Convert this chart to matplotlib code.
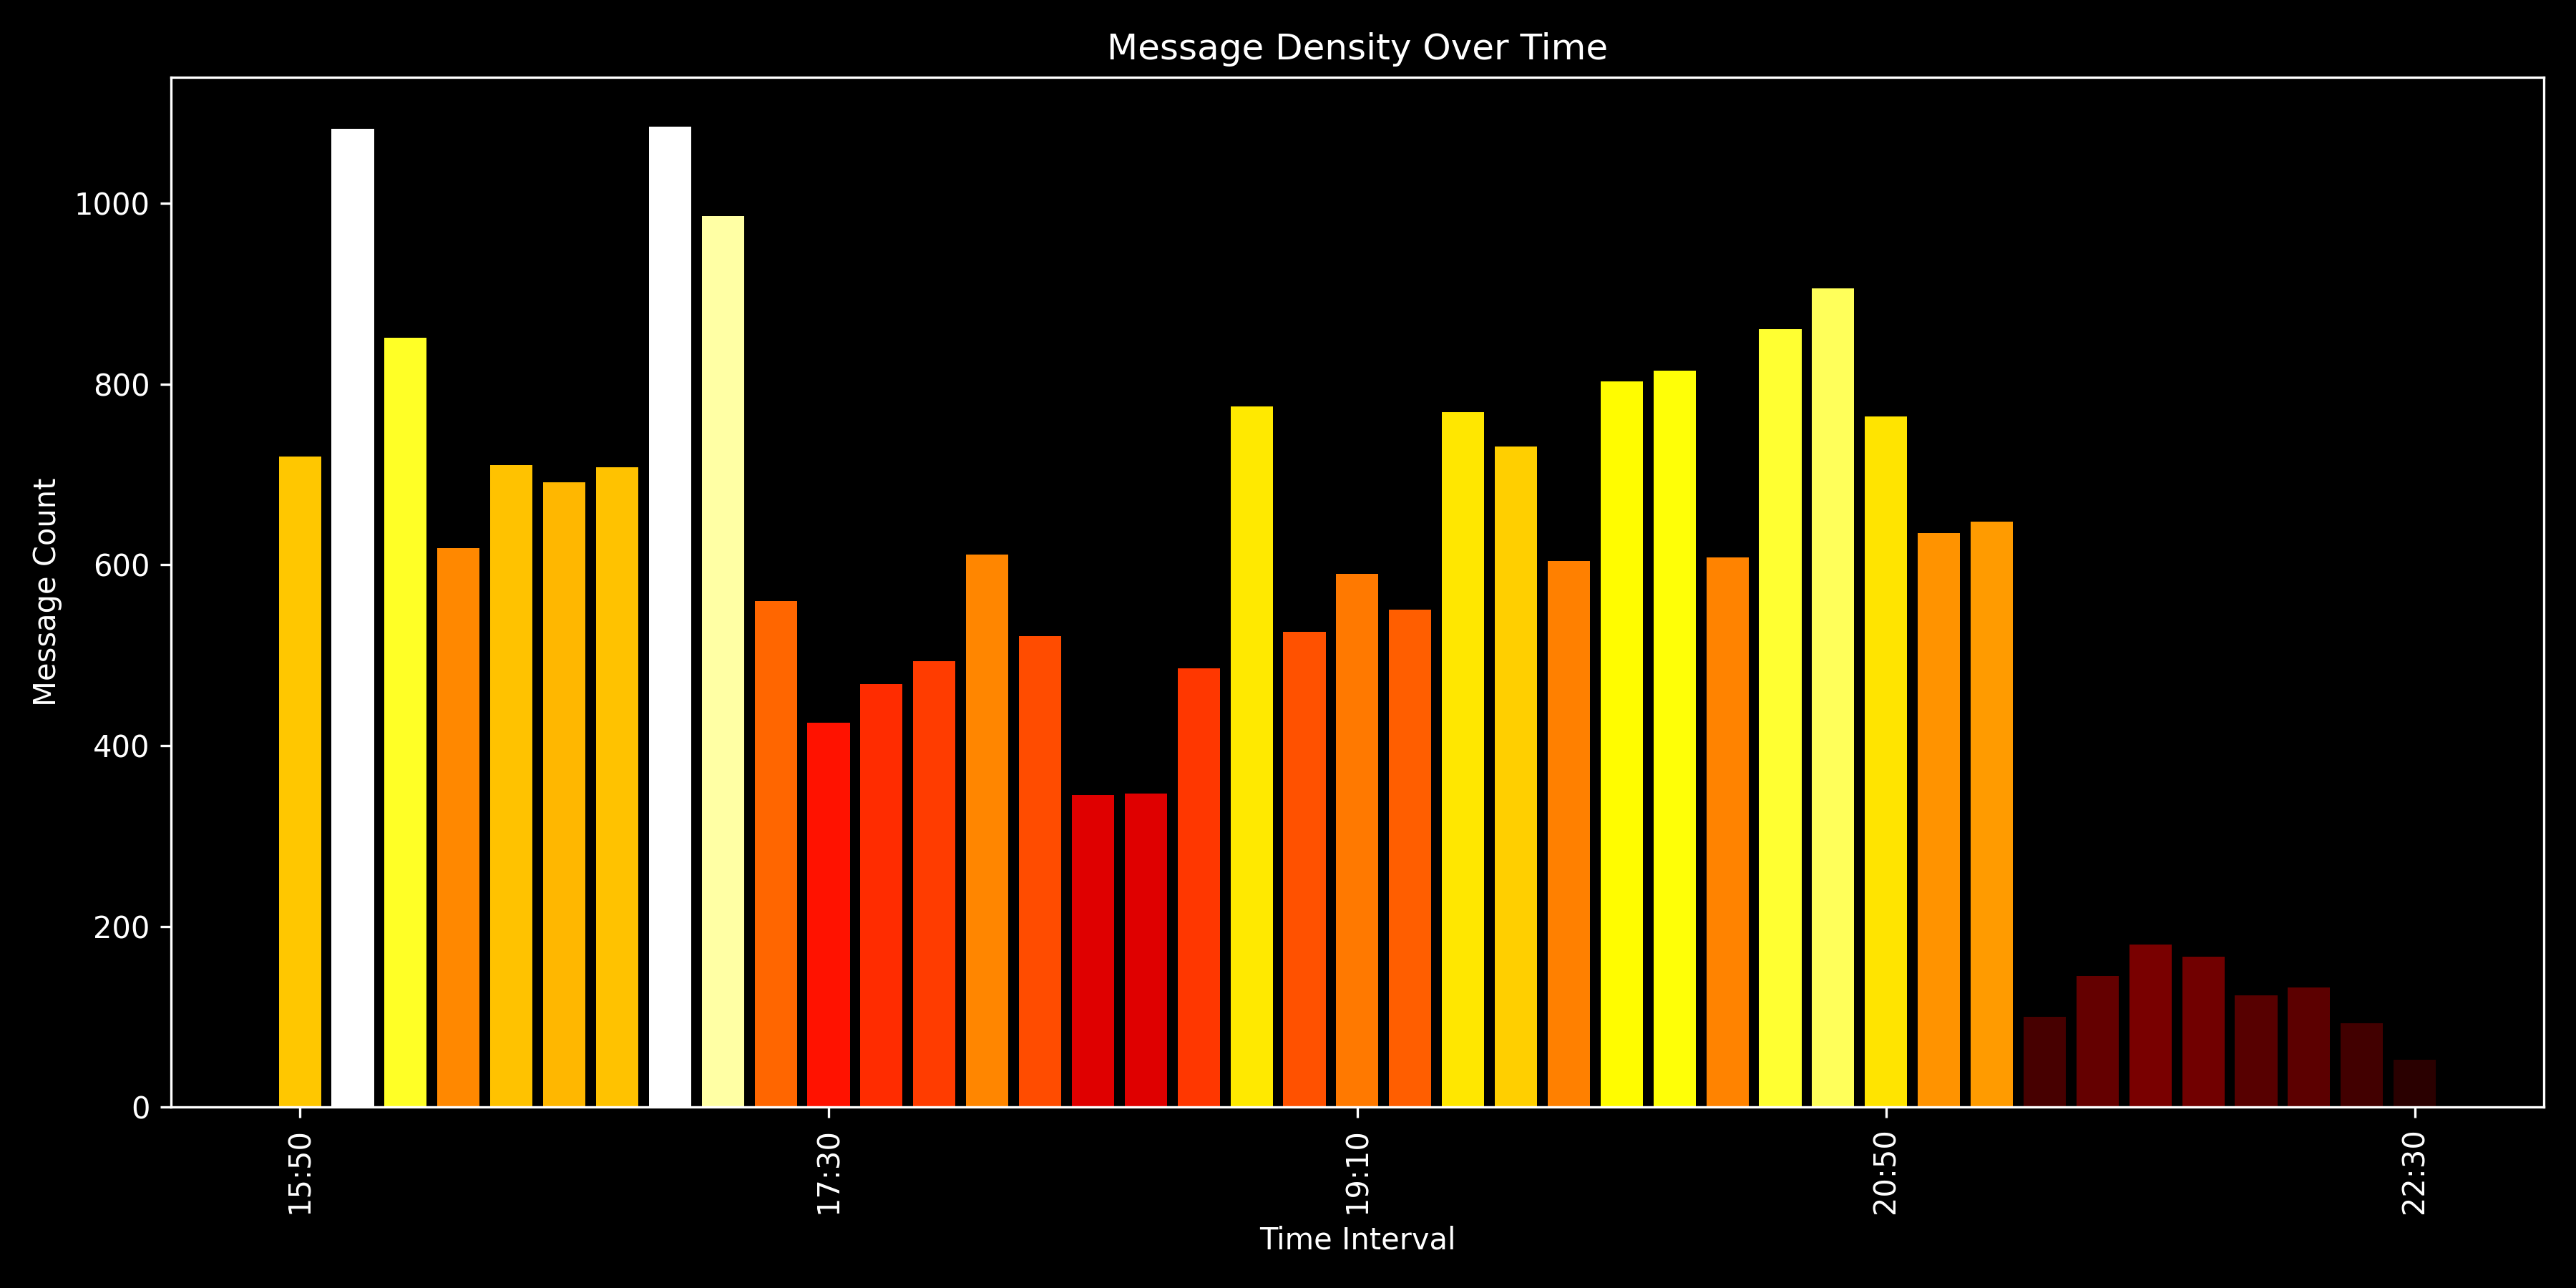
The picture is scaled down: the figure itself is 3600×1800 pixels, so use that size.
import matplotlib
matplotlib.use('Agg')
import matplotlib.pyplot as plt
import numpy as np

# 10-minute intervals from 15:50 to 22:30
times = ["15:50", "16:00", "16:10", "16:20", "16:30", "16:40", "16:50",
         "17:00", "17:10", "17:20", "17:30", "17:40", "17:50",
         "18:00", "18:10", "18:20", "18:30", "18:40", "18:50",
         "19:00", "19:10", "19:20", "19:30", "19:40", "19:50",
         "20:00", "20:10", "20:20", "20:30", "20:40", "20:50",
         "21:00", "21:10", "21:20", "21:30", "21:40", "21:50",
         "22:00", "22:10", "22:20", "22:30"]
counts = [720, 1082, 851, 618, 710, 691, 708,
          1085, 986, 560, 425, 468, 493,
          611, 521, 345, 347, 485, 775,
          526, 590, 550, 769, 731, 604,
          803, 815, 608, 861, 906, 764,
          635, 648, 100, 145, 180, 166,
          124, 132, 93, 52]
tick_labels = ["15:50", "17:30", "19:10", "20:50", "22:30"]

plt.style.use('dark_background')
fig, ax = plt.subplots(figsize=(12, 6), dpi=300)

x = np.arange(len(times))
vals = np.array(counts)
colors = plt.cm.hot(vals / vals.max())
ax.bar(x, vals, color=colors)

tick_pos = [times.index(t) for t in tick_labels]
ax.set_xticks(tick_pos)
ax.set_xticklabels(tick_labels, rotation=90)

ax.set_title("Message Density Over Time")
ax.set_xlabel("Time Interval")
ax.set_ylabel("Message Count")

plt.tight_layout()
plt.savefig("out.png", dpi=300)
